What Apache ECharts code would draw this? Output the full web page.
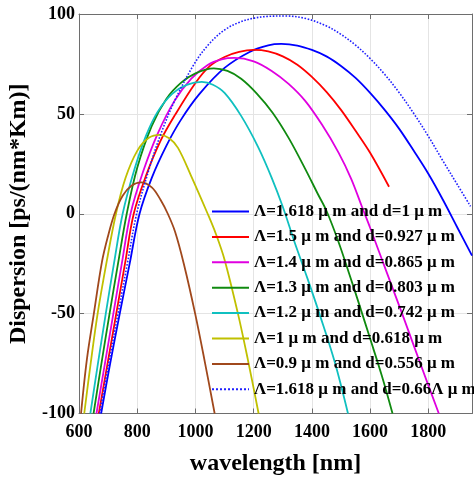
<!DOCTYPE html>
<html>
<head>
<meta charset="utf-8">
<script src="https://cdn.jsdelivr.net/npm/echarts@6/dist/echarts.min.js"></script>
<style>
  html, body { margin: 0; padding: 0; background: #ffffff; }
  #chart { width: 474px; height: 479px; }
</style>
</head>
<body>
<div id="chart"></div>
<script>
// Chromatic dispersion D(λ) of photonic crystal fibres, [wavelength nm, ps/(nm*Km)]
const fiberLabels = [
  'Λ=1.618 μ m and d=1 μ m',
  'Λ=1.5 μ m and d=0.927 μ m',
  'Λ=1.4 μ m and d=0.865 μ m',
  'Λ=1.3 μ m and d=0.803 μ m',
  'Λ=1.2 μ m and d=0.742 μ m',
  'Λ=1 μ m and d=0.618 μ m',
  'Λ=0.9 μ m and d=0.556 μ m',
  'Λ=1.618 μ m and d=0.66Λ μ m'
];

const dispL1618d1 = [[676,-100],[707,-75],[740,-50],[774,-25],[808,0],[850,18],[900,34],[950,47],[1014,60],[1100,73],[1186,81],[1250,84.3],[1295,85],[1350,84.2],[1400,82],[1450,78.8],[1500,74],[1550,68],[1600,60.5],[1650,52],[1700,42.5],[1750,31.5],[1800,20],[1850,7],[1900,-7],[1950,-21]];
const dispL15 = [[668,-100],[698,-75],[728,-50],[758,-25],[788,0],[830,19],[880,36.5],[930,49.5],[1000,65.5],[1050,74],[1100,78.5],[1150,81],[1200,82],[1250,81.3],[1300,78.8],[1350,74.6],[1400,68.5],[1450,61],[1500,52],[1550,41.5],[1600,30.5],[1665,13.5]];
const dispL14 = [[660,-100],[689,-75],[718,-50],[747,-25],[777,0],[820,21],[870,40],[928,56.5],[985,67.5],[1042,74.5],[1090,77.3],[1134,78],[1200,76.3],[1262,71.5],[1320,65],[1377,56.5],[1435,44.5],[1492,30.5],[1535,17.5],[1572,3.5],[1600,-7],[1660,-30.5],[1715,-52],[1775,-76],[1836,-100]];
const dispL13 = [[650,-100],[677,-75],[705,-50],[734,-25],[764,0],[800,23],[850,44],[900,57.5],[950,65.5],[1000,70.3],[1063,72.8],[1110,71.5],[1157,67.6],[1210,60.3],[1265,50.6],[1320,38],[1377,22.5],[1420,10],[1450,1.5],[1490,-13.5],[1527,-29.5],[1565,-46.5],[1600,-62.5],[1640,-81],[1677,-100]];
const dispL12 = [[639,-100],[665,-75],[692,-50],[720,-25],[750,0],[790,22],[830,39],[870,51],[920,60],[970,64.5],[1022,66],[1060,64.6],[1100,60.5],[1157,49],[1215,33.5],[1262,18],[1300,3.5],[1340,-14],[1385,-32.5],[1428,-51],[1478,-74],[1524,-100]];
const dispL10 = [[618,-100],[640,-75],[664,-50],[695,-24],[727,0],[760,18],[800,31.5],[840,38],[878,39.5],[910,37.8],[940,33],[985,19],[1042,0],[1070,-10],[1100,-23],[1146,-50],[1180,-73],[1217,-100]];
const dispL09 = [[607,-100],[627,-73],[651,-50],[679,-24],[700,-11],[722,0],[750,9],[780,14],[813,15.7],[850,13.2],[880,7],[905,0],[930,-9],[960,-25],[999,-50],[1032,-74],[1066,-100]];
const dispL1618d066 = [[671,-100],[702,-75],[734,-50],[766,-25],[798,0],[840,22],[880,39.5],[930,57],[1000,76],[1050,85.5],[1100,92],[1150,95.8],[1200,97.9],[1250,98.8],[1308,99],[1380,97.7],[1450,94],[1500,89.8],[1550,84.4],[1600,77.7],[1650,69.8],[1700,60.6],[1750,50.2],[1800,38.8],[1850,26.5],[1900,14.5],[1945,3.7]];

const xTicks = { min: 600, max: 1950, step: 200 };
const yTicks = { min: -100, max: 100, step: 50 };

const seriesData = [dispL1618d1, dispL15, dispL14, dispL13, dispL12, dispL10, dispL09, dispL1618d066];
const seriesColors = ['#0000ff', '#ff0000', '#e000e0', '#108a10', '#10c0c0', '#c0c000', '#a0481c', '#2020ff'];
const seriesDash = ['solid', 'solid', 'solid', 'solid', 'solid', 'solid', 'solid', 'dotted'];

const serif = "'Liberation Serif', 'Times New Roman', serif";
const frame = '#6e6e6e';

const chart = echarts.init(document.getElementById('chart'), null, { renderer: 'canvas' });

const series = seriesData.map((d, i) => ({
  name: fiberLabels[i],
  type: 'line',
  data: d,
  xAxisIndex: 0,
  yAxisIndex: 0,
  smooth: 0.35,
  symbol: 'none',
  clip: true,
  lineStyle: { color: seriesColors[i], width: i === 7 ? 1.6 : 1.8, type: seriesDash[i] },
  itemStyle: { color: seriesColors[i] },
  z: 2
}));

const plainNumber = v => String(v);

const baseX = {
  type: 'value',
  min: xTicks.min,
  max: xTicks.max,
  interval: xTicks.step
};
const baseY = {
  type: 'value',
  min: yTicks.min,
  max: yTicks.max,
  interval: yTicks.step
};

chart.setOption({
  animation: false,
  backgroundColor: '#ffffff',
  grid: { left: 79, right: 2, top: 14, bottom: 65.5, containLabel: false, outerBoundsMode: 'none' },
  legend: {
    orient: 'vertical',
    left: 211,
    top: 203,
    itemWidth: 37,
    itemHeight: 14,
    itemGap: 8.4,
    padding: 0,
    selectedMode: false,
    data: fiberLabels,
    itemStyle: { opacity: 0 },
    textStyle: { fontFamily: serif, fontWeight: 'bold', fontSize: 17, color: '#000' }
  },
  xAxis: [
    Object.assign({}, baseX, {
      position: 'bottom',
      name: 'wavelength [nm]',
      nameLocation: 'middle',
      nameGap: 38,
      nameTextStyle: { fontFamily: serif, fontWeight: 'bold', fontSize: 24, color: '#000' },
      axisLine: { show: true, onZero: false, lineStyle: { color: frame, width: 1 } },
      axisTick: { show: true, inside: true, length: 5, lineStyle: { color: frame } },
      axisLabel: { show: true, margin: 10, showMaxLabel: false, formatter: plainNumber, fontFamily: serif, fontWeight: 'bold', fontSize: 18, color: '#000' },
      splitLine: { show: true, lineStyle: { color: '#e4e4e4', width: 1 } }
    }),
    Object.assign({}, baseX, {
      position: 'top',
      axisLine: { show: true, onZero: false, lineStyle: { color: frame, width: 1 } },
      axisTick: { show: true, inside: true, length: 5, lineStyle: { color: frame } },
      axisLabel: { show: false },
      splitLine: { show: false }
    })
  ],
  yAxis: [
    Object.assign({}, baseY, {
      position: 'left',
      name: 'Dispersion [ps/(nm*Km)]',
      nameLocation: 'middle',
      nameRotate: 90,
      nameGap: 43,
      nameTextStyle: { fontFamily: serif, fontWeight: 'bold', fontSize: 24, color: '#000' },
      axisLine: { show: true, onZero: false, lineStyle: { color: frame, width: 1 } },
      axisTick: { show: true, inside: true, length: 5, lineStyle: { color: frame } },
      axisLabel: { show: true, margin: 4, formatter: plainNumber, fontFamily: serif, fontWeight: 'bold', fontSize: 18, color: '#000' },
      splitLine: { show: true, lineStyle: { color: '#e4e4e4', width: 1 } }
    }),
    Object.assign({}, baseY, {
      position: 'right',
      axisLine: { show: true, onZero: false, lineStyle: { color: frame, width: 1 } },
      axisTick: { show: true, inside: true, length: 5, lineStyle: { color: frame } },
      axisLabel: { show: false },
      splitLine: { show: false }
    })
  ],
  series: series
});
</script>
</body>
</html>
